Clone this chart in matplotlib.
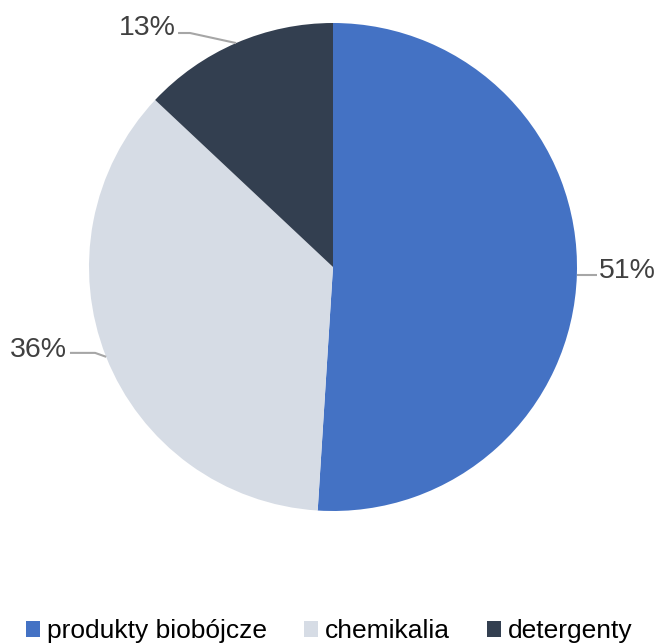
import numpy as np
import matplotlib
matplotlib.use("Agg")
import matplotlib.pyplot as plt
from matplotlib.patches import Patch

plt.rcParams['font.family'] = ['Liberation Sans', 'DejaVu Sans']

# data
categories = ['produkty biobójcze', 'chemikalia', 'detergenty']
shares = [51, 36, 13]
colors = ['#4472c4', '#d6dce5', '#333f50']

W, H = 658, 644
fig = plt.figure(figsize=(W / 100, H / 100), dpi=100)

# pie centre (333, 267) px, radius 244 px
cx, cy, r = 333, 267, 244
ax = fig.add_axes([(cx - r) / W, (H - cy - r) / H, 2 * r / W, 2 * r / H])
wedges, _ = ax.pie(shares, colors=colors, startangle=90, counterclock=False,
                   radius=1, wedgeprops=dict(linewidth=0))
ax.set_xlim(-1, 1)
ax.set_ylim(-1, 1)
ax.set_aspect('equal')
ax.axis('off')

# label layout: (text x, text y, ha, elbow points)
lab_pos = [
    (1.09, -0.016, 'left', [(1.08, -0.02)]),
    (-1.09, -0.34, 'right', [(-0.975, -0.352), (-1.078, -0.352)]),
    (-0.644, 0.98, 'right', [(-0.586, 0.959), (-0.635, 0.959)]),
]
lc = '#a6a6a6'
for w, val, (tx, ty, ha, pts) in zip(wedges, shares, lab_pos):
    mid = np.deg2rad((w.theta1 + w.theta2) / 2)
    ex, ey = np.cos(mid), np.sin(mid)
    xs = [ex] + [p[0] for p in pts]
    ys = [ey] + [p[1] for p in pts]
    if ha == 'left':
        ys = [ey, ey]
        xs = [ex, pts[0][0]]
    ax.plot(xs, ys, color=lc, lw=1.5, clip_on=False, solid_capstyle='butt')
    ax.text(tx, ty, f'{val}%', ha=ha, va='center', fontsize=20.5,
            color='#404040', clip_on=False)

handles = [Patch(facecolor=c, edgecolor='none') for c in colors]
fig.legend(handles, categories, loc='center', bbox_to_anchor=(0.5, 0.02),
           ncol=3, frameon=False, fontsize=19, handlelength=0.55,
           handleheight=0.55, handletextpad=0.25, columnspacing=1.4,
           borderaxespad=0, borderpad=0)

fig.savefig('out.png', dpi=100)
